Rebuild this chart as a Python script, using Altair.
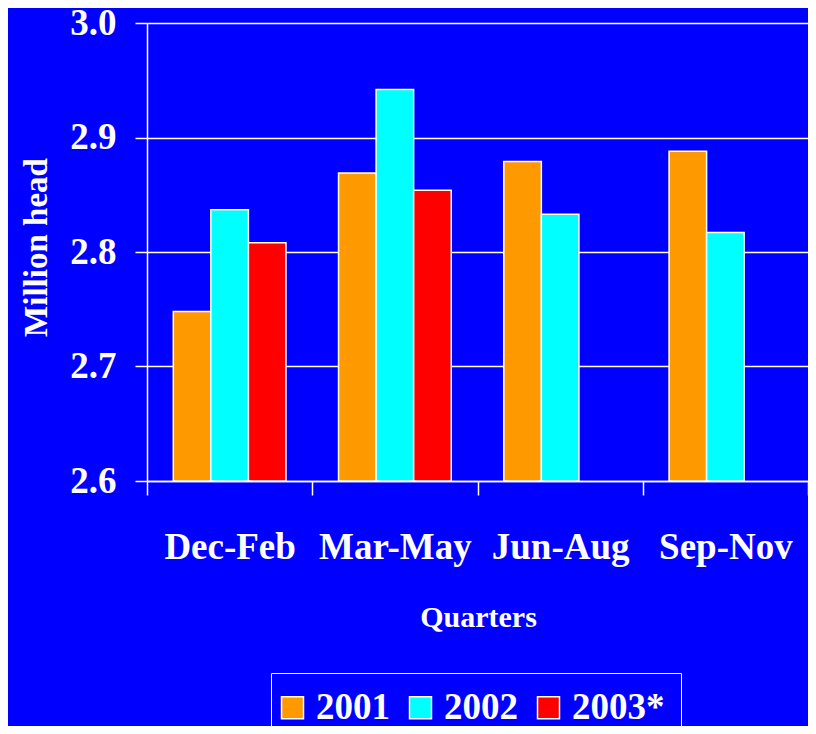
import altair as alt
import pandas as pd

quarters = ["Dec-Feb", "Mar-May", "Jun-Aug", "Sep-Nov"]
years = ["2001", "2002", "2003*"]
v2001 = [2.748, 2.869, 2.879, 2.888]
v2002 = [2.837, 2.942, 2.833, 2.817]
v2003 = [2.808, 2.854, None, None]
colors = ["#FF9900", "#00FFFF", "#FF0000"]
y_ticks = [2.6, 2.7, 2.8, 2.9, 3.0]

rows = []
for q, a, b, c in zip(quarters, v2001, v2002, v2003):
    for yr, v in zip(years, (a, b, c)):
        if v is not None:
            rows.append({"quarter": q, "year": yr, "value": v})
df = pd.DataFrame(rows)

FONT = "Liberation Serif"
BG = "#0000FF"

bars = alt.Chart(df).mark_bar(stroke="white", strokeWidth=1.5).encode(
    x=alt.X(
        "quarter:N",
        sort=quarters,
        scale=alt.Scale(paddingInner=0, paddingOuter=0),
        axis=alt.Axis(
            title="Quarters",
            labelAngle=0,
            tickBand="extent",
            tickSize=14,
            tickColor="white",
            tickWidth=1.5,
            domainColor="white",
            domainWidth=1.5,
            grid=False,
            labelFont=FONT,
            labelFontSize=37,
            labelFontWeight="bold",
            labelColor="white",
            labelPadding=63,
            labelBaseline="alphabetic",
            titleFont=FONT,
            titleFontSize=30,
            titleFontWeight="bold",
            titleColor="white",
            titleX=331,
            titleY=145,
            titleBaseline="alphabetic",
            titleAlign="center",
        ),
    ),
    xOffset=alt.XOffset(
        "year:N",
        sort=years,
        scale=alt.Scale(domain=years, paddingOuter=0.7, paddingInner=0),
    ),
    y=alt.Y(
        "value:Q",
        scale=alt.Scale(domain=[2.6, 3.0], zero=False, nice=False),
        axis=alt.Axis(
            title="Million head",
            values=y_ticks,
            format=".1f",
            tickSize=12,
            tickColor="white",
            tickWidth=1.5,
            domainColor="white",
            domainWidth=1.5,
            gridColor="white",
            gridWidth=1.5,
            gridOpacity=1,
            labelFont=FONT,
            labelFontSize=37,
            labelFontWeight="bold",
            labelColor="white",
            labelPadding=19,
            titleFont=FONT,
            titleFontSize=33,
            titleFontWeight="bold",
            titleColor="white",
            titleAngle=270,
            titleX=-101,
            titleY=224,
            titleBaseline="alphabetic",
            titleAlign="center",
        ),
    ),
    y2=alt.datum(2.6),
    color=alt.Color(
        "year:N",
        scale=alt.Scale(domain=years, range=colors),
        legend=alt.Legend(
            title=None,
            orient="none",
            legendX=124,
            legendY=650,
            direction="horizontal",
            padding=16,
            strokeColor="white",
            fillColor=BG,
            symbolType="square",
            symbolSize=484,
            symbolStrokeColor="white",
            symbolStrokeWidth=1.5,
            symbolOpacity=1,
            symbolOffset=-13,
            labelFont=FONT,
            labelFontSize=37,
            labelFontWeight="bold",
            labelColor="white",
            labelOffset=5,
            columnPadding=16,
        ),
    ),
)

chart = bars.properties(
    width=661,
    height=458,
    autosize=alt.AutoSizeParams(type="none"),
    padding={"left": 139, "top": 15, "right": 0, "bottom": 245},
    background=BG,
).configure_view(stroke=None)

chart.save("out.html", embed_options={"renderer": "svg", "actions": False})
